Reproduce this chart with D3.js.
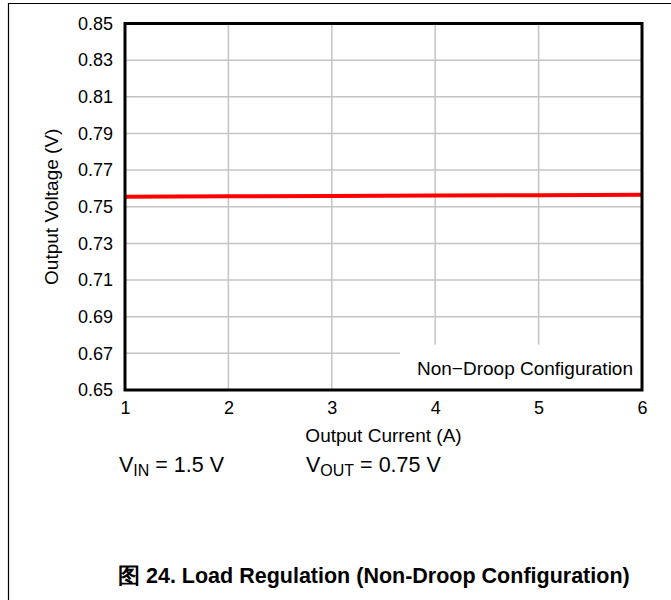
<!DOCTYPE html>
<html>
<head>
<meta charset="utf-8">
<script src="https://cdn.jsdelivr.net/npm/d3@7"></script>
<style>
  html, body { margin: 0; padding: 0; background: #fff; }
  svg { display: block; }
  text { font-family: "Liberation Sans", Arial, sans-serif; fill: #000; }
</style>
</head>
<body>
<svg id="chart" width="671" height="600"></svg>
<script>
// ---- data ----
const currents = [1, 2, 3, 4, 5, 6];
const voltages = [0.7555, 0.7557, 0.7559, 0.7561, 0.7563, 0.7565];
const xTicks = [1, 2, 3, 4, 5, 6];
const yTicks = [0.65, 0.67, 0.69, 0.71, 0.73, 0.75, 0.77, 0.79, 0.81, 0.83, 0.85];
const xTitle = "Output Current (A)";
const yTitle = "Output Voltage (V)";
const legendLabel = "Non\u2212Droop Configuration";
const caption = "图 24. Load Regulation (Non-Droop Configuration)";

// ---- layout ----
const svg = d3.select("#chart");
const L = 125, R = 642, T = 23.5, B = 390;
const x = d3.scaleLinear().domain([1, 6]).range([L, R]);
const y = d3.scaleLinear().domain([0.65, 0.85]).range([B, T]);

// outer frame
svg.append("path").attr("d", `M8.5,600 V3.5 H671`)
  .attr("fill", "none").attr("stroke", "#000").attr("stroke-width", 1.2);

// gridlines
const grid = svg.append("g");
grid.selectAll("line.h").data(yTicks.slice(1, -1)).join("line")
  .attr("x1", L).attr("x2", R).attr("y1", d => y(d)).attr("y2", d => y(d))
  .attr("stroke", "#c4c4c4").attr("stroke-width", 1.5);
grid.selectAll("line.v").data(xTicks.slice(1, -1)).join("line")
  .attr("y1", T).attr("y2", B).attr("x1", d => x(d)).attr("x2", d => x(d))
  .attr("stroke", "#c4c4c4").attr("stroke-width", 1.5);

// legend background box (covers grid)
svg.append("rect").attr("x", 400).attr("y", 344.5)
  .attr("width", R - 400).attr("height", B - 344.5).attr("fill", "#fff");

// data line
const line = d3.line().x((d, i) => x(currents[i])).y(d => y(d));
svg.append("path").datum(voltages).attr("d", line)
  .attr("fill", "none").attr("stroke", "#ff0000").attr("stroke-width", 4);

// plot border
svg.append("rect").attr("x", L).attr("y", T).attr("width", R - L).attr("height", B - T)
  .attr("fill", "none").attr("stroke", "#000").attr("stroke-width", 3);

// axes (labels via d3 axis, no domain/ticks)
const yAxis = svg.append("g").attr("transform", `translate(${L},0)`)
  .call(d3.axisLeft(y).tickValues(yTicks).tickFormat(d3.format(".2f")).tickSize(0).tickPadding(12));
yAxis.select(".domain").remove();
yAxis.selectAll("text").attr("font-size", 18).attr("font-family", "Liberation Sans, Arial, sans-serif").attr("fill", "#000");

const xAxis = svg.append("g").attr("transform", `translate(0,${B})`)
  .call(d3.axisBottom(x).tickValues(xTicks).tickFormat(d3.format("d")).tickSize(0).tickPadding(11));
xAxis.select(".domain").remove();
xAxis.selectAll("text").attr("font-size", 18).attr("font-family", "Liberation Sans, Arial, sans-serif").attr("fill", "#000");

// titles
svg.append("text").attr("x", (L + R) / 2).attr("y", 442).attr("text-anchor", "middle")
  .attr("font-size", 19).text(xTitle);
svg.append("text").attr("transform", `translate(58,${(T + B) / 2}) rotate(-90)`)
  .attr("text-anchor", "middle").attr("font-size", 19).text(yTitle);

// legend text
svg.append("text").attr("x", 633).attr("y", 375).attr("text-anchor", "end")
  .attr("font-size", 19).text(legendLabel);

// conditions
const c1 = svg.append("text").attr("x", 119).attr("y", 472).attr("font-size", 21.5);
c1.append("tspan").text("V");
c1.append("tspan").attr("font-size", 16).attr("dy", 4).text("IN");
c1.append("tspan").attr("dy", -4).text(" = 1.5 V");
const c2 = svg.append("text").attr("x", 306).attr("y", 472).attr("font-size", 21.5);
c2.append("tspan").text("V");
c2.append("tspan").attr("font-size", 16).attr("dy", 4).text("OUT");
c2.append("tspan").attr("dy", -4).text(" = 0.75 V");

// caption
svg.append("text").attr("x", 118).attr("y", 583).attr("font-size", 21.5).attr("font-weight", "bold")
  .text(caption);
</script>
</body>
</html>
